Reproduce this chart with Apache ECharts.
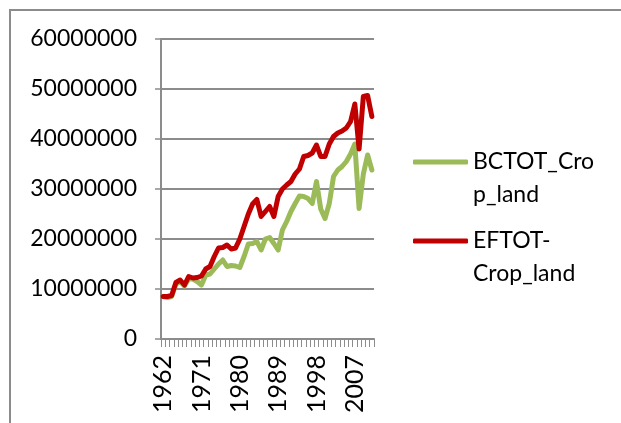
<!DOCTYPE html>
<html>
<head>
<meta charset="utf-8">
<script src="https://cdn.jsdelivr.net/npm/echarts@6/dist/echarts.min.js"></script>
<style>
  html, body { margin: 0; padding: 0; background: #fff; }
  #chart { width: 621px; height: 423px; }
</style>
</head>
<body>
<div id="chart"></div>
<script>
// Years on the category axis
const years = [];
for (let y = 1962; y <= 2011; y++) years.push(String(y));

// Values (in millions, scaled below)
const bctotCrop = [
  8.5, 8.3, 8.5, 11.0, 11.5, 10.6, 12.0, 12.0, 11.5, 10.8,
  12.8, 13.0, 14.0, 15.0, 15.8, 14.5, 14.7, 14.6, 14.3, 16.5,
  19.0, 19.1, 19.5, 17.8, 20.0, 20.3, 19.1, 17.8, 21.8, 23.5,
  25.5, 27.1, 28.6, 28.5, 28.1, 27.1, 31.5, 26.0, 24.1, 27.1,
  32.5, 33.8, 34.5, 35.5, 37.0, 39.0, 26.1, 33.0, 36.8, 33.8
];
const eftotCrop = [
  8.5, 8.5, 8.7, 11.3, 11.8, 10.8, 12.5, 12.2, 12.3, 12.6,
  14.0, 14.5, 16.5, 18.2, 18.3, 18.8, 18.0, 18.2, 20.0, 22.5,
  25.0, 27.0, 27.9, 24.5, 25.5, 26.5, 24.5, 28.5, 30.0, 30.8,
  31.5, 33.0, 34.0, 36.5, 36.7, 37.2, 38.8, 36.5, 36.5, 39.0,
  40.5, 41.2, 41.6, 42.2, 43.5, 47.0, 38.0, 48.5, 48.7, 44.5
];
const seriesNames = ['BCTOT_Crop_land', 'EFTOT-Crop_land'];
const legendLines = {
  'BCTOT_Crop_land': ' \nBCTOT_Cro\np_land',
  'EFTOT-Crop_land': ' \nEFTOT-\nCrop_land'
};

const chart = echarts.init(document.getElementById('chart'));
const fontFam = 'Lato, "Open Sans", sans-serif';
const lh = 33;

function legendFor(name, top) {
  return {
    data: [name],
    left: 413,
    top: top,
    padding: 0,
    itemWidth: 55,
    itemHeight: 5,
    icon: 'roundRect',
    formatter: n => legendLines[n],
    textStyle: { fontFamily: fontFam, fontSize: 23, color: '#000', lineHeight: lh }
  };
}

chart.setOption({
  animation: false,
  backgroundColor: '#fff',
  graphic: [{
    type: 'rect',
    shape: { x: 10, y: 10, width: 640, height: 440 },
    style: { fill: 'none', stroke: '#8c8c8c', lineWidth: 2 },
    silent: true
  }],
  legend: [legendFor(seriesNames[0], 162 - lh * 1.5), legendFor(seriesNames[1], 241 - lh * 1.5)],
  grid: { left: 161, right: 247, top: 39, bottom: 84, containLabel: false },
  xAxis: {
    type: 'category',
    data: years,
    boundaryGap: true,
    axisLine: { lineStyle: { color: '#8c8c8c', width: 2 } },
    axisTick: { show: true, interval: 0, length: 8, lineStyle: { color: '#8c8c8c', width: 1 } },
    axisLabel: {
      interval: 8,
      rotate: 90,
      margin: 16,
      fontFamily: fontFam,
      fontSize: 25,
      color: '#000'
    }
  },
  yAxis: {
    type: 'value',
    min: 0,
    max: 60000000,
    interval: 10000000,
    axisLine: { show: true, lineStyle: { color: '#8c8c8c', width: 2 } },
    axisTick: { show: true, length: 6, lineStyle: { color: '#8c8c8c', width: 1.5 } },
    axisLabel: {
      margin: 24,
      fontFamily: fontFam,
      fontSize: 23,
      color: '#000',
      formatter: v => String(v)
    },
    splitLine: { lineStyle: { color: '#8c8c8c', width: 2 } }
  },
  series: [
    {
      name: seriesNames[0],
      type: 'line',
      data: bctotCrop.map(v => Math.round(v * 1000000)),
      symbol: 'none',
      lineStyle: { color: '#9BBB59', width: 5, join: 'round', cap: 'round' },
      itemStyle: { color: '#9BBB59' }
    },
    {
      name: seriesNames[1],
      type: 'line',
      data: eftotCrop.map(v => Math.round(v * 1000000)),
      symbol: 'none',
      lineStyle: { color: '#C00000', width: 5, join: 'round', cap: 'round' },
      itemStyle: { color: '#C00000' }
    }
  ]
});

window.addEventListener('resize', function() {
  chart.resize();
});
</script>
</body>
</html>
